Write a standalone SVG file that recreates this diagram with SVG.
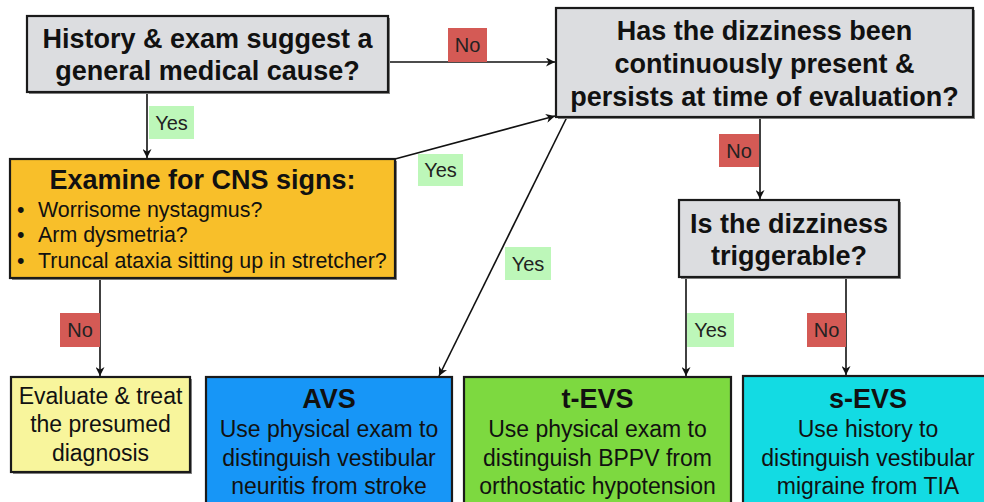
<svg xmlns="http://www.w3.org/2000/svg" width="984" height="502" viewBox="0 0 984 502">
<defs>
<marker id="ah" viewBox="0 0 10 10" refX="10" refY="5" markerWidth="9" markerHeight="9" markerUnits="userSpaceOnUse" orient="auto">
<path d="M0,0 L10,5 L0,10 L3,5 z" fill="#111"/>
</marker>
<style>
.box{stroke:#1a1a1a;stroke-width:2.2}
.sh{fill:#8a8a8a}
.q{font-family:"Liberation Sans",Arial,sans-serif;font-weight:bold;font-size:27px;fill:#111;text-anchor:middle}
.t{font-family:"Liberation Sans",Arial,sans-serif;font-size:23px;fill:#111;text-anchor:middle}
.b{font-family:"Liberation Sans",Arial,sans-serif;font-size:21.4px;fill:#111}
.lbl{font-family:"Liberation Sans",Arial,sans-serif;font-size:20px;fill:#222;text-anchor:middle}
.no{fill:#d45a55}
.yes{fill:#bdf7b9}
.c{stroke:#111;stroke-width:1.6;fill:none;marker-end:url(#ah)}
</style>
</defs>
<rect width="984" height="502" fill="#ffffff"/>

<g id="connectors">
<line class="c" x1="388" y1="62" x2="555" y2="62"/>
<line class="c" x1="147" y1="92" x2="147" y2="158"/>
<line class="c" x1="395" y1="159" x2="555" y2="116"/>
<line class="c" x1="567" y1="117" x2="439" y2="376"/>
<line class="c" x1="760" y1="117" x2="760" y2="199"/>
<line class="c" x1="100" y1="278" x2="100" y2="376"/>
<line class="c" x1="686" y1="277" x2="686" y2="376"/>
<line class="c" x1="846" y1="277" x2="846" y2="375"/>
</g>

<g id="labels">
<rect class="no" x="448" y="28" width="39" height="34"/>
<text class="lbl" x="467.5" y="52">No</text>
<rect class="yes" x="149" y="106" width="45" height="33"/>
<text class="lbl" x="171.5" y="130">Yes</text>
<rect class="yes" x="418" y="154" width="45" height="32"/>
<text class="lbl" x="440.5" y="177">Yes</text>
<rect class="no" x="719" y="134" width="40" height="33"/>
<text class="lbl" x="739" y="158">No</text>
<rect class="yes" x="505" y="247" width="46" height="33"/>
<text class="lbl" x="528" y="271">Yes</text>
<rect class="no" x="60" y="313" width="40" height="34"/>
<text class="lbl" x="80" y="337">No</text>
<rect class="yes" x="687" y="313" width="47" height="34"/>
<text class="lbl" x="710.5" y="337">Yes</text>
<rect class="no" x="807" y="313" width="39" height="34"/>
<text class="lbl" x="826.5" y="337">No</text>
</g>

<g id="n1">
<rect class="sh" x="29" y="18" width="361" height="76"/>
<rect class="box" x="27" y="16" width="361" height="76" fill="#dcdde0"/>
<text class="q" x="207.5" y="48">History &amp; exam suggest a</text>
<text class="q" x="207.5" y="80">general medical cause?</text>
</g>

<g id="n2">
<rect class="sh" x="558" y="10" width="417" height="109"/>
<rect class="box" x="556" y="8" width="417" height="109" fill="#dcdde0"/>
<text class="q" x="764.5" y="40">Has the dizziness been</text>
<text class="q" x="764.5" y="73">continuously present &amp;</text>
<text class="q" x="764.5" y="106">persists at time of evaluation?</text>
</g>

<g id="n3">
<rect class="sh" x="12" y="161" width="385" height="119"/>
<rect class="box" x="10" y="159" width="385" height="119" fill="#f8bf2a"/>
<text class="q" x="202.5" y="189">Examine for CNS signs:</text>
<text class="b" x="17" y="217">•</text>
<text class="b" x="38" y="217">Worrisome nystagmus?</text>
<text class="b" x="17" y="242">•</text>
<text class="b" x="38" y="242">Arm dysmetria?</text>
<text class="b" x="17" y="268">•</text>
<text class="b" x="38" y="268">Truncal ataxia sitting up in stretcher?</text>
</g>

<g id="n4">
<rect class="sh" x="681" y="202" width="220" height="77"/>
<rect class="box" x="679" y="200" width="220" height="77" fill="#dcdde0"/>
<text class="q" x="789" y="233">Is the dizziness</text>
<text class="q" x="789" y="265">triggerable?</text>
</g>

<g id="n5">
<rect class="sh" x="13" y="379" width="179" height="95"/>
<rect class="box" x="11" y="377" width="179" height="95" fill="#f8f59c"/>
<text class="t" x="100.5" y="404">Evaluate &amp; treat</text>
<text class="t" x="100.5" y="432">the presumed</text>
<text class="t" x="100.5" y="461">diagnosis</text>
</g>

<g id="n6">
<rect class="box" x="206" y="377" width="246" height="140" fill="#1796f7"/>
<text class="q" x="329" y="408">AVS</text>
<text class="t" x="329" y="437">Use physical exam to</text>
<text class="t" x="329" y="466">distinguish vestibular</text>
<text class="t" x="329" y="494">neuritis from stroke</text>
</g>

<g id="n7">
<rect class="box" x="464" y="377" width="267" height="140" fill="#7dd940"/>
<text class="q" x="597.5" y="408">t-EVS</text>
<text class="t" x="597.5" y="437">Use physical exam to</text>
<text class="t" x="597.5" y="466">distinguish BPPV from</text>
<text class="t" x="597.5" y="494">orthostatic hypotension</text>
</g>

<g id="n8">
<rect class="box" x="743" y="376" width="252" height="140" fill="#13dbe3"/>
<text class="q" x="868" y="408">s-EVS</text>
<text class="t" x="868" y="437">Use history to</text>
<text class="t" x="868" y="466">distinguish vestibular</text>
<text class="t" x="868" y="494">migraine from TIA</text>
</g>
</svg>
